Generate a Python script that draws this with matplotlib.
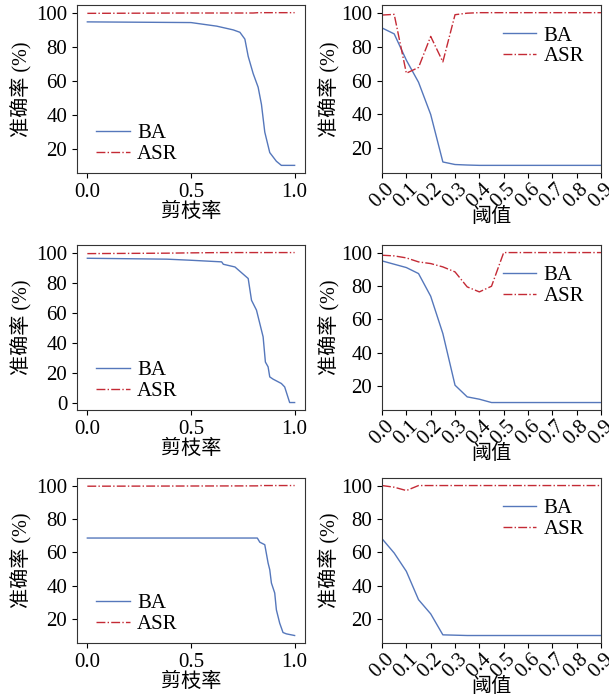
import matplotlib.pyplot as plt
import numpy as np

plt.rcParams['font.family'] = ['Liberation Serif', 'Noto Sans CJK SC']
plt.rcParams['font.size'] = 15
plt.rcParams['axes.labelsize'] = 14.5

# 剪枝率 曲线 (左列)
prune1_x = [0.0, 0.5, 0.624, 0.704, 0.736, 0.76, 0.776, 0.8, 0.824, 0.84, 0.856, 0.864, 0.88, 0.912, 0.936, 1.0]
prune1_ba = [94.6, 94.2, 92.1, 89.9, 88.5, 84.5, 74.4, 64.3, 56.3, 46.2, 30, 26, 18, 12.9, 10.5, 10.5]
prune1_asr = [99.6, 99.8, 99.8, 99.8, 99.8, 99.8, 99.8, 99.8, 100, 100, 100, 100, 100, 100, 100, 100]

prune2_x = [0.0, 0.384, 0.496, 0.648, 0.656, 0.712, 0.776, 0.792, 0.816, 0.848, 0.859, 0.872, 0.88, 0.896, 0.936, 0.952, 0.976, 1.0]
prune2_ba = [96.2, 95.6, 94.9, 93.8, 92.2, 90.4, 82.7, 68.2, 61.6, 43.8, 27, 23.8, 17.1, 15.6, 12.7, 10.4, 0, 0]
prune2_asr = [99.3, 99.6, 99.8, 100, 100, 100, 100, 100, 100, 100, 100, 100, 100, 100, 100, 100, 100, 100]

prune3_x = [0.0, 0.82, 0.832, 0.856, 0.872, 0.88, 0.888, 0.904, 0.912, 0.928, 0.944, 0.96, 1.0]
prune3_ba = [68.5, 68.5, 66, 64.5, 53.5, 49.5, 41.5, 35.5, 25.4, 17.4, 11.8, 11, 10]
prune3_asr = [99.6, 99.8, 100, 100, 100, 100, 100, 100, 100, 100, 100, 100, 100]

# 阈值 曲线 (右列)
thr = [0.0, 0.05, 0.1, 0.15, 0.2, 0.25, 0.3, 0.35, 0.4, 0.45, 0.5, 0.55, 0.6, 0.65, 0.7, 0.75, 0.8, 0.85, 0.9]
thr1_ba = [91, 87.5, 72, 59, 40, 12, 10.5, 10.2, 10, 10, 10, 10, 10, 10, 10, 10, 10, 10, 10]
thr1_asr = [98.6, 99, 64.3, 67.7, 86, 71, 98.8, 99.7, 100, 100, 100, 100, 100, 100, 100, 100, 100, 100, 100]
thr2_ba = [95, 93, 91, 87.4, 73.8, 51.4, 20.4, 13.4, 12, 10, 10, 10, 10, 10, 10, 10, 10, 10, 10]
thr2_asr = [98.4, 98, 96.8, 94.4, 93.4, 91.4, 88.4, 79.4, 76.4, 79.8, 100, 100, 100, 100, 100, 100, 100, 100, 100]
thr3_ba = [68.1, 59.5, 48.5, 31.5, 23, 10.4, 10.2, 10, 10, 10, 10, 10, 10, 10, 10, 10, 10, 10, 10]
thr3_asr = [100, 99, 97, 100, 100, 100, 100, 100, 100, 100, 100, 100, 100, 100, 100, 100, 100, 100, 100]

thr_ticks = [0.0, 0.1, 0.2, 0.3, 0.4, 0.5, 0.6, 0.7, 0.8, 0.9]
left_yticks = [[20, 40, 60, 80, 100], [0, 20, 40, 60, 80, 100], [20, 40, 60, 80, 100]]

ba_color = '#5577bb'
asr_color = '#c42a35'

fig = plt.figure(figsize=(6.09, 6.99), dpi=100)

rows = [(0.7525, 0.2403), (0.4134, 0.236), (0.0801, 0.236)]
left_data = [(prune1_x, prune1_ba, prune1_asr),
             (prune2_x, prune2_ba, prune2_asr),
             (prune3_x, prune3_ba, prune3_asr)]
right_data = [(thr1_ba, thr1_asr), (thr2_ba, thr2_asr), (thr3_ba, thr3_asr)]

for i, (bottom, height) in enumerate(rows):
    # 左: 剪枝率
    ax = fig.add_axes([0.1264, bottom, 0.3744, height])
    px, ba, asr = left_data[i]
    ax.plot(px, ba, color=ba_color, lw=1.0, label='BA')
    ax.plot(px, asr, color=asr_color, lw=1.0, ls='-.', label='ASR')
    ax.set_xticks([0.0, 0.5, 1.0])
    ax.set_yticks(left_yticks[i])
    ax.set_xlabel('剪枝率', labelpad=1)
    ax.set_ylabel('准确率 (%)', labelpad=3)
    ax.legend(loc='lower left', frameon=False, handlelength=1.6, handletextpad=0.35,
              borderaxespad=0.2, labelspacing=0.05, bbox_to_anchor=(0.03, -0.02))

    # 右: 阈值
    ax2 = fig.add_axes([0.6273, bottom, 0.3596, height])
    ba, asr = right_data[i]
    ax2.plot(thr, ba, color=ba_color, lw=1.0, label='BA')
    ax2.plot(thr, asr, color=asr_color, lw=1.0, ls='-.', label='ASR')
    ax2.set_xlim(0, 0.9)
    ax2.set_xticks(thr_ticks)
    ax2.set_xticklabels(['%.1f' % t for t in thr_ticks], rotation=45, ha='center')
    ax2.set_yticks([20, 40, 60, 80, 100])
    ax2.tick_params(axis='x', pad=1)
    ax2.set_xlabel('阈值', labelpad=-2)
    ax2.set_ylabel('准确率 (%)', labelpad=1)
    ax2.legend(loc='upper right', frameon=False, handlelength=1.6, handletextpad=0.35,
               borderaxespad=0.2, labelspacing=0.05, bbox_to_anchor=(0.98, 0.95))

    for a in (ax, ax2):
        for s in a.spines.values():
            s.set_color('#333333')

plt.savefig('out.png', dpi=100)
plt.close()
